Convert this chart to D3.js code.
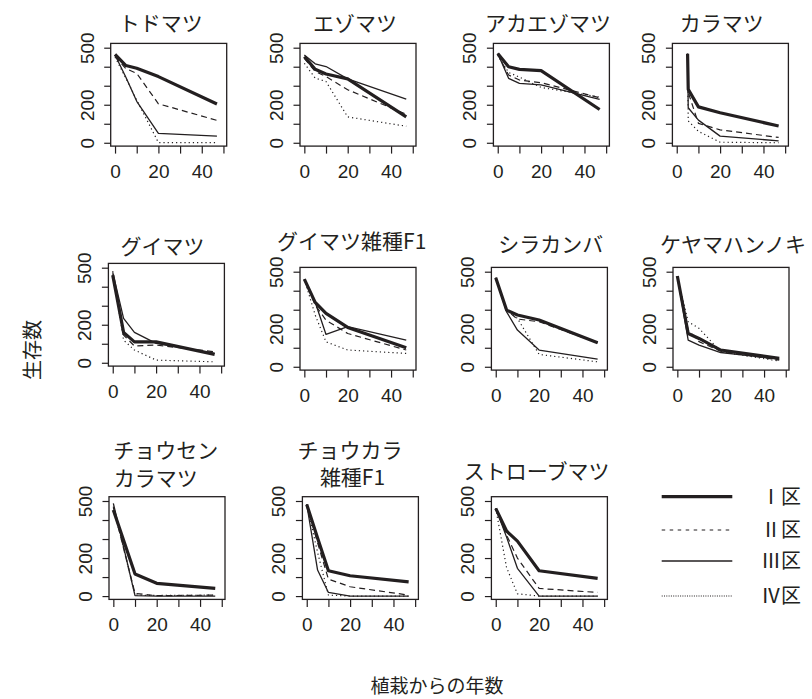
<!DOCTYPE html>
<html>
<head>
<meta charset="utf-8">
<script src="https://cdn.jsdelivr.net/npm/d3@7"></script>
<style>
  body { margin: 0; background: #fff; }
  svg text { fill: #231f20; }
</style>
</head>
<body>
<div id="chart"></div>
<script>
// --- data ---
const species = ["トドマツ", "エゾマツ", "アカエゾマツ", "カラマツ",
                 "グイマツ", "グイマツ雑種F1", "シラカンバ", "ケヤマハンノキ",
                 "チョウセン\nカラマツ", "チョウカラ\n雑種F1", "ストローブマツ"];

const years = [0, 5, 10, 20, 47];
const yearsKaramatsu = [5, 5.3, 10, 20, 47];
const yearsChosen = [0, 10, 20, 47];
const panelYears = [years, years, years, yearsKaramatsu,
                    years, years, years, years,
                    yearsChosen, years, years];

// one row per species, in the order above
const zoneI = [
  [465, 406, 392, 348, 204],
  [453, 387, 362, 336, 136],
  [470, 400, 386, 379, 175],
  [468, 281, 189, 158, 88],
  [461, 160, 110, 110, 44],
  [461, 339, 281, 207, 100],
  [468, 298, 272, 246, 126],
  [477, 175, 149, 88, 44],
  [453, 116, 67, 40],
  [482, 305, 133, 107, 75],
  [461, 342, 289, 133, 93]
];
const zoneII = [
  [455, 390, 365, 205, 118],
  [444, 375, 348, 279, 150],
  [465, 356, 330, 316, 237],
  [468, 265, 102, 68, 28],
  [465, 146, 88, 93, 58],
  [461, 325, 245, 175, 88],
  [468, 298, 251, 237, 126],
  [477, 193, 132, 82, 35],
  [465, 14, 2, 5],
  [482, 280, 89, 49, 5],
  [461, 321, 200, 40, 19]
];
const zoneIII = [
  [462, 345, 218, 49, 35],
  [462, 415, 401, 336, 230],
  [470, 339, 312, 304, 228],
  [468, 184, 119, 35, 10],
  [475, 233, 160, 102, 49],
  [461, 339, 170, 211, 140],
  [468, 289, 193, 88, 40],
  [477, 140, 114, 75, 40],
  [488, 2, 0, 0],
  [482, 137, 19, 0, 0],
  [461, 310, 146, 0, 0]
];
const zoneIV = [
  [450, 340, 225, 1, 1],
  [418, 340, 322, 136, 87],
  [460, 370, 345, 291, 240],
  [468, 115, 60, 3, 0],
  [482, 119, 67, 14, 5],
  [461, 272, 131, 88, 70],
  [468, 298, 255, 65, 26],
  [477, 237, 202, 79, 30],
  [470, 5, 3, 5],
  [482, 230, 5, 0, 0],
  [461, 150, 12, 0, 0]
];
const zones = [zoneI, zoneII, zoneIII, zoneIV];
const zoneLabels = ["Ⅰ区", "Ⅱ区", "Ⅲ区", "Ⅳ区"];

const xTicks = [0, 10, 20, 30, 40, 50];
const xTickLabels = [0, 20, 40];
const yTicks = [0, 100, 200, 300, 400, 500];
const yTickLabels = [0, 200, 500];

// --- layout ---
const W = 812, H = 699;
const ink = "#231f20";
const numFont = "'Liberation Sans', Arial, sans-serif";
const jpFont = "'Noto Sans CJK JP', sans-serif";
const boxW = 116, boxH = 102.7;
const boxLeft = [110.7, 300, 493.4, 672.4, 108.4, 300, 491.4, 673, 109, 302.4, 491.4];
const boxTop  = [43.4, 43.4, 43.4, 43.4, 263.4, 267.4, 267.4, 267.4, 496.7, 496.7, 496.7];
const titleX = [[160.8], [355], [548], [721.7], [162.5], [351.7], [550.8], [733],
                [165.8, 155.8], [350, 352.5], [536.7]];
const titleY = [[31], [31], [31], [31], [254], [249], [252], [252],
                [457.5, 486], [457.5, 485], [479]];

const zoneStyle = [
  { width: 3.2, dash: null },
  { width: 1.2, dash: "6,4" },
  { width: 1.3, dash: null },
  { width: 1.2, dash: "1.2,3" }
];
const legendDash = [null, "3.5,4.5", null, "1,1.3"];

const x = d3.scaleLinear().domain([-2, 51.5]).range([0, boxW]);
const y = d3.scaleLinear().domain([-17.5, 522.6]).range([boxH, 0]);

const svg = d3.select("#chart").append("svg")
    .attr("width", W)
    .attr("height", H);

species.forEach((name, i) => {
    const g = svg.append("g")
        .attr("transform", `translate(${boxLeft[i]},${boxTop[i]})`);

    // x axis
    const xa = g.append("g")
        .attr("transform", `translate(0,${boxH})`)
        .call(d3.axisBottom(x)
            .tickValues(xTicks)
            .tickSize(7.5)
            .tickPadding(11)
            .tickFormat(d => xTickLabels.includes(d) ? d : ""))
        .attr("font-size", null)
        .attr("font-family", null);
    xa.select(".domain").remove();
    xa.selectAll("line").attr("stroke", ink).attr("stroke-width", 1.2);
    xa.selectAll("text")
        .attr("font-family", numFont)
        .attr("font-size", 19)
        .attr("fill", ink);

    // y axis, labels turned like R's default
    const ya = g.append("g")
        .call(d3.axisLeft(y)
            .tickValues(yTicks)
            .tickSize(6.5)
            .tickFormat(d => yTickLabels.includes(d) ? d : ""))
        .attr("font-size", null)
        .attr("font-family", null);
    ya.select(".domain").remove();
    ya.selectAll("line").attr("stroke", ink).attr("stroke-width", 1.2);
    ya.selectAll("text")
        .attr("x", 0).attr("dy", 0)
        .attr("text-anchor", "middle")
        .attr("transform", "translate(-17,0) rotate(-90)")
        .attr("font-family", numFont)
        .attr("font-size", 19)
        .attr("fill", ink);

    // box
    g.append("rect")
        .attr("width", boxW).attr("height", boxH)
        .attr("fill", "none")
        .attr("stroke", ink)
        .attr("stroke-width", 1.3);

    // lines, drawn IV first so the thick one stays on top
    const line = d3.line()
        .x((d, k) => x(panelYears[i][k]))
        .y(d => y(d));
    [3, 2, 1, 0].forEach(z => {
        g.append("path")
            .attr("d", line(zones[z][i]))
            .attr("fill", "none")
            .attr("stroke", ink)
            .attr("stroke-width", zoneStyle[z].width)
            .attr("stroke-dasharray", zoneStyle[z].dash)
            .attr("stroke-linejoin", "round");
    });

    // title
    name.split("\n").forEach((t, k) => {
        svg.append("text")
            .attr("x", titleX[i][k])
            .attr("y", titleY[i][k])
            .attr("text-anchor", "middle")
            .style("font-family", jpFont)
            .style("font-size", "21px")
            .text(t);
    });
});

// legend
const legendY = [496.7, 530, 561, 596];
zoneLabels.forEach((lab, z) => {
    svg.append("line")
        .attr("x1", 661.7).attr("x2", 732.3)
        .attr("y1", legendY[z]).attr("y2", legendY[z])
        .attr("stroke", ink)
        .attr("stroke-width", zoneStyle[z].width)
        .attr("stroke-dasharray", legendDash[z]);
    svg.append("text")
        .attr("x", 801)
        .attr("y", legendY[z] + 7)
        .attr("text-anchor", "end")
        .style("font-family", jpFont)
        .style("font-size", "20px")
        .text(lab);
});

// axis titles
svg.append("text")
    .attr("transform", "translate(40,350) rotate(-90)")
    .attr("text-anchor", "middle")
    .style("font-family", jpFont)
    .style("font-size", "20px")
    .text("生存数");

svg.append("text")
    .attr("x", 437)
    .attr("y", 693)
    .attr("text-anchor", "middle")
    .style("font-family", jpFont)
    .style("font-size", "19px")
    .text("植栽からの年数");
</script>
</body>
</html>
